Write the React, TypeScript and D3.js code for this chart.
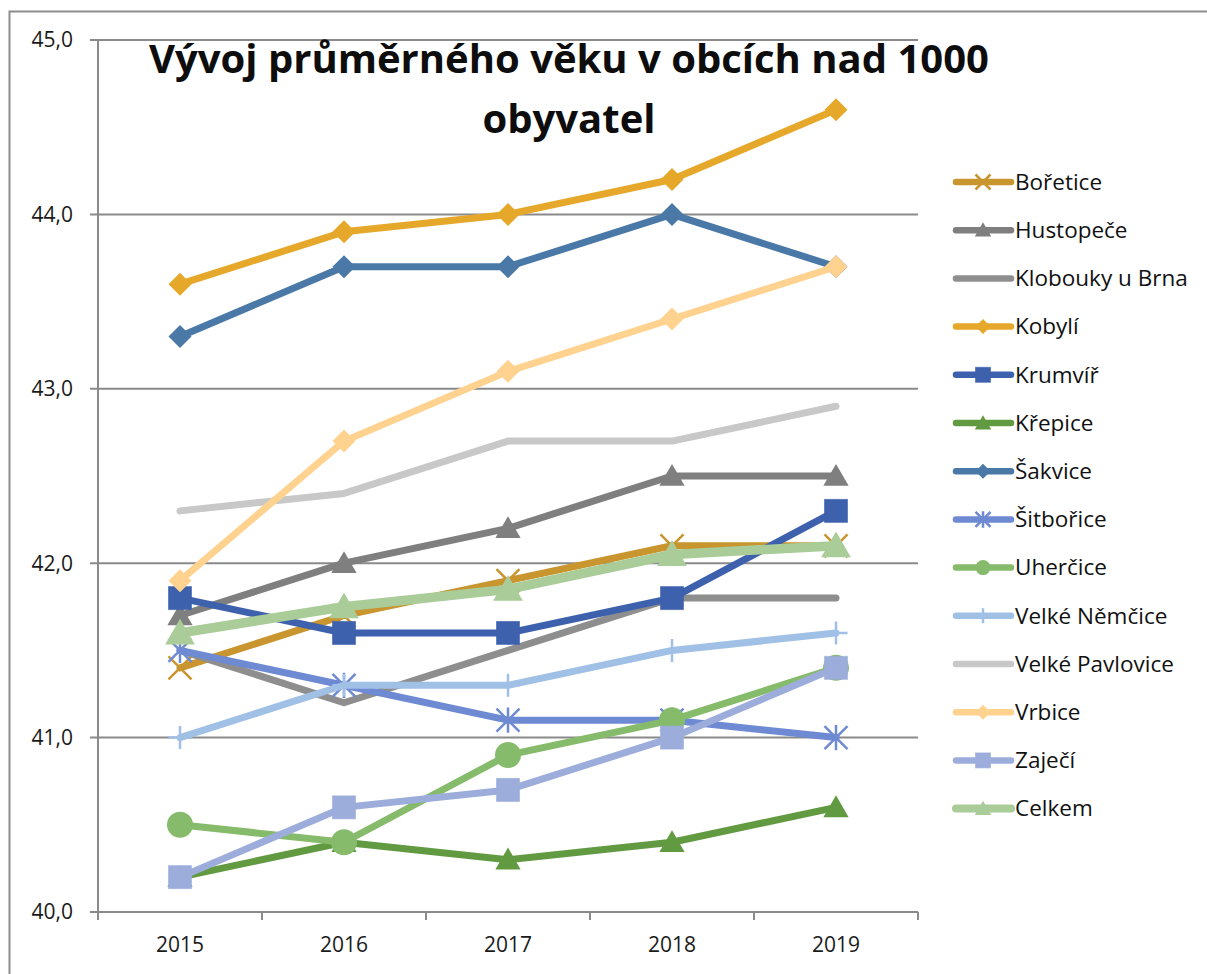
import * as d3 from 'd3'

const YEARS = ['2015', '2016', '2017', '2018', '2019']
const Y_TICKS = [40, 41, 42, 43, 44, 45]

const NAMES = [
  'Bořetice', 'Hustopeče', 'Klobouky u Brna', 'Kobylí', 'Krumvíř', 'Křepice', 'Šakvice',
  'Šitbořice', 'Uherčice', 'Velké Němčice', 'Velké Pavlovice', 'Vrbice', 'Zaječí', 'Celkem',
]
const COLORS = [
  '#C8952F', '#7F7F7F', '#8E8E8E', '#E6A82A', '#3D61AD', '#629A42', '#4A79A8',
  '#6E8AD3', '#86BB6B', '#A0C0E6', '#C8C8C8', '#FFD38F', '#9CADDB', '#A9CC98',
]
const MARKERS = [
  'x', 'triangle', 'none', 'diamond', 'square', 'triangle', 'diamond',
  'star', 'circle', 'plus', 'none', 'diamond', 'square', 'triangle',
]

const BORETICE = [41.4, 41.7, 41.9, 42.1, 42.1]
const HUSTOPECE = [41.7, 42.0, 42.2, 42.5, 42.5]
const KLOBOUKY = [41.5, 41.2, 41.5, 41.8, 41.8]
const KOBYLI = [43.6, 43.9, 44.0, 44.2, 44.6]
const KRUMVIR = [41.8, 41.6, 41.6, 41.8, 42.3]
const KREPICE = [40.2, 40.4, 40.3, 40.4, 40.6]
const SAKVICE = [43.3, 43.7, 43.7, 44.0, 43.7]
const SITBORICE = [41.5, 41.3, 41.1, 41.1, 41.0]
const UHERCICE = [40.5, 40.4, 40.9, 41.1, 41.4]
const V_NEMCICE = [41.0, 41.3, 41.3, 41.5, 41.6]
const V_PAVLOVICE = [42.3, 42.4, 42.7, 42.7, 42.9]
const VRBICE = [41.9, 42.7, 43.1, 43.4, 43.7]
const ZAJECI = [40.2, 40.6, 40.7, 41.0, 41.4]
const CELKEM = [41.6, 41.75, 41.85, 42.05, 42.1]

const VALUES = [
  BORETICE, HUSTOPECE, KLOBOUKY, KOBYLI, KRUMVIR, KREPICE, SAKVICE,
  SITBORICE, UHERCICE, V_NEMCICE, V_PAVLOVICE, VRBICE, ZAJECI, CELKEM,
]

const FONT = "'Open Sans', 'Noto Sans', sans-serif"
const W = 1207
const H = 974
const plot = { left: 98, right: 918, top: 40, bottom: 912 }

const x = d3.scalePoint<string>().domain(YEARS).range([plot.left, plot.right]).padding(0.5)
const y = d3.scaleLinear().domain([40, 45]).range([plot.bottom, plot.top])
const band = (plot.right - plot.left) / YEARS.length

function Marker({ kind, cx, cy, color, s }: { kind: string; cx: number; cy: number; color: string; s: number }) {
  const h = s / 2
  switch (kind) {
    case 'square':
      return <rect x={cx - h} y={cy - h} width={s} height={s} fill={color} stroke={color} strokeOpacity={0.6} />
    case 'diamond':
      return <path d={`M${cx},${cy - h}L${cx + h},${cy}L${cx},${cy + h}L${cx - h},${cy}Z`} fill={color} />
    case 'triangle':
      return <path d={`M${cx},${cy - h * 1.05}L${cx + h * 1.1},${cy + h * 0.85}L${cx - h * 1.1},${cy + h * 0.85}Z`} fill={color} />
    case 'circle':
      return <circle cx={cx} cy={cy} r={h} fill={color} />
    case 'x':
      return (
        <path d={`M${cx - h},${cy - h}L${cx + h},${cy + h}M${cx + h},${cy - h}L${cx - h},${cy + h}`}
          stroke={color} strokeWidth={2.5} />
      )
    case 'star':
      return (
        <path d={`M${cx - h},${cy - h}L${cx + h},${cy + h}M${cx + h},${cy - h}L${cx - h},${cy + h}M${cx},${cy - h * 1.1}L${cx},${cy + h * 1.1}`}
          stroke={color} strokeWidth={2.5} />
      )
    case 'plus':
      return (
        <path d={`M${cx - h},${cy}L${cx + h},${cy}M${cx},${cy - h}L${cx},${cy + h}`}
          stroke={color} strokeWidth={2.5} />
      )
    default:
      return null
  }
}

export default function App() {
  const line = d3
    .line<number>()
    .x((_, i) => x(YEARS[i]) as number)
    .y((d) => y(d))

  const legendTop = 182
  const legendStep = 48.2

  return (
    <svg width={W} height={H} style={{ position: 'absolute', left: 0, top: 0 }}>
      <rect x={0} y={0} width={W} height={H} fill="#fff" />
      <rect x={9.5} y={11.5} width={W + 20} height={H + 20} fill="none" stroke="#8c8c8c" strokeWidth={2} />

      {/* gridlines + y labels */}
      {Y_TICKS.map((t) => (
        <g key={t}>
          <line x1={plot.left - 8} x2={plot.right} y1={y(t)} y2={y(t)} stroke="#8a8a8a" strokeWidth={2} />
          <text x={73} y={y(t)} dy="0.35em" textAnchor="end" fontFamily={FONT} fontSize={21} fill="#1a1a1a">
            {d3.format('.1f')(t).replace('.', ',')}
          </text>
        </g>
      ))}
      <line x1={plot.left} x2={plot.left} y1={plot.top} y2={plot.bottom} stroke="#8a8a8a" strokeWidth={2} />

      {/* x axis ticks + labels */}
      {d3.range(YEARS.length + 1).map((i) => (
        <line key={i} x1={plot.left + i * band} x2={plot.left + i * band} y1={plot.bottom} y2={plot.bottom + 8}
          stroke="#8a8a8a" strokeWidth={2} />
      ))}
      {YEARS.map((yr) => (
        <text key={yr} x={x(yr)} y={945} dy="0.35em" textAnchor="middle" fontFamily={FONT} fontSize={21} fill="#1a1a1a">
          {yr}
        </text>
      ))}

      {/* series */}
      {VALUES.map((vals, si) => {
        const last = si === VALUES.length - 1
        return (
          <g key={NAMES[si]}>
            <path d={line(vals) ?? ''} fill="none" stroke={COLORS[si]} strokeWidth={last ? 9.5 : 7}
              strokeLinejoin="round" strokeLinecap="round" />
            {vals.map((v, i) => (
              <Marker key={i} kind={MARKERS[si]} cx={x(YEARS[i]) as number} cy={y(v)} color={COLORS[si]}
                s={last ? 27 : MARKERS[si] === 'circle' ? 26 : 23} />
            ))}
          </g>
        )
      })}

      {/* title */}
      <text x={569} y={59} dy="0.35em" textAnchor="middle" fontFamily={FONT} fontWeight={700} fontSize={40} fill="#0d0d0d">
        Vývoj průměrného věku v obcích nad 1000
      </text>
      <text x={569} y={119} dy="0.35em" textAnchor="middle" fontFamily={FONT} fontWeight={700} fontSize={40} fill="#0d0d0d">
        obyvatel
      </text>

      {/* legend */}
      {NAMES.map((n, si) => {
        const ly = legendTop + si * legendStep
        return (
          <g key={n}>
            <line x1={956} x2={1011} y1={ly} y2={ly} stroke={COLORS[si]} strokeWidth={si === NAMES.length - 1 ? 8 : 6.5}
              strokeLinecap="round" />
            <Marker kind={MARKERS[si]} cx={983} cy={ly} color={COLORS[si]} s={15} />
            <text x={1015} y={ly} dy="0.35em" fontFamily={FONT} fontSize={22.5} fill="#111">{n}</text>
          </g>
        )
      })}
    </svg>
  )
}
